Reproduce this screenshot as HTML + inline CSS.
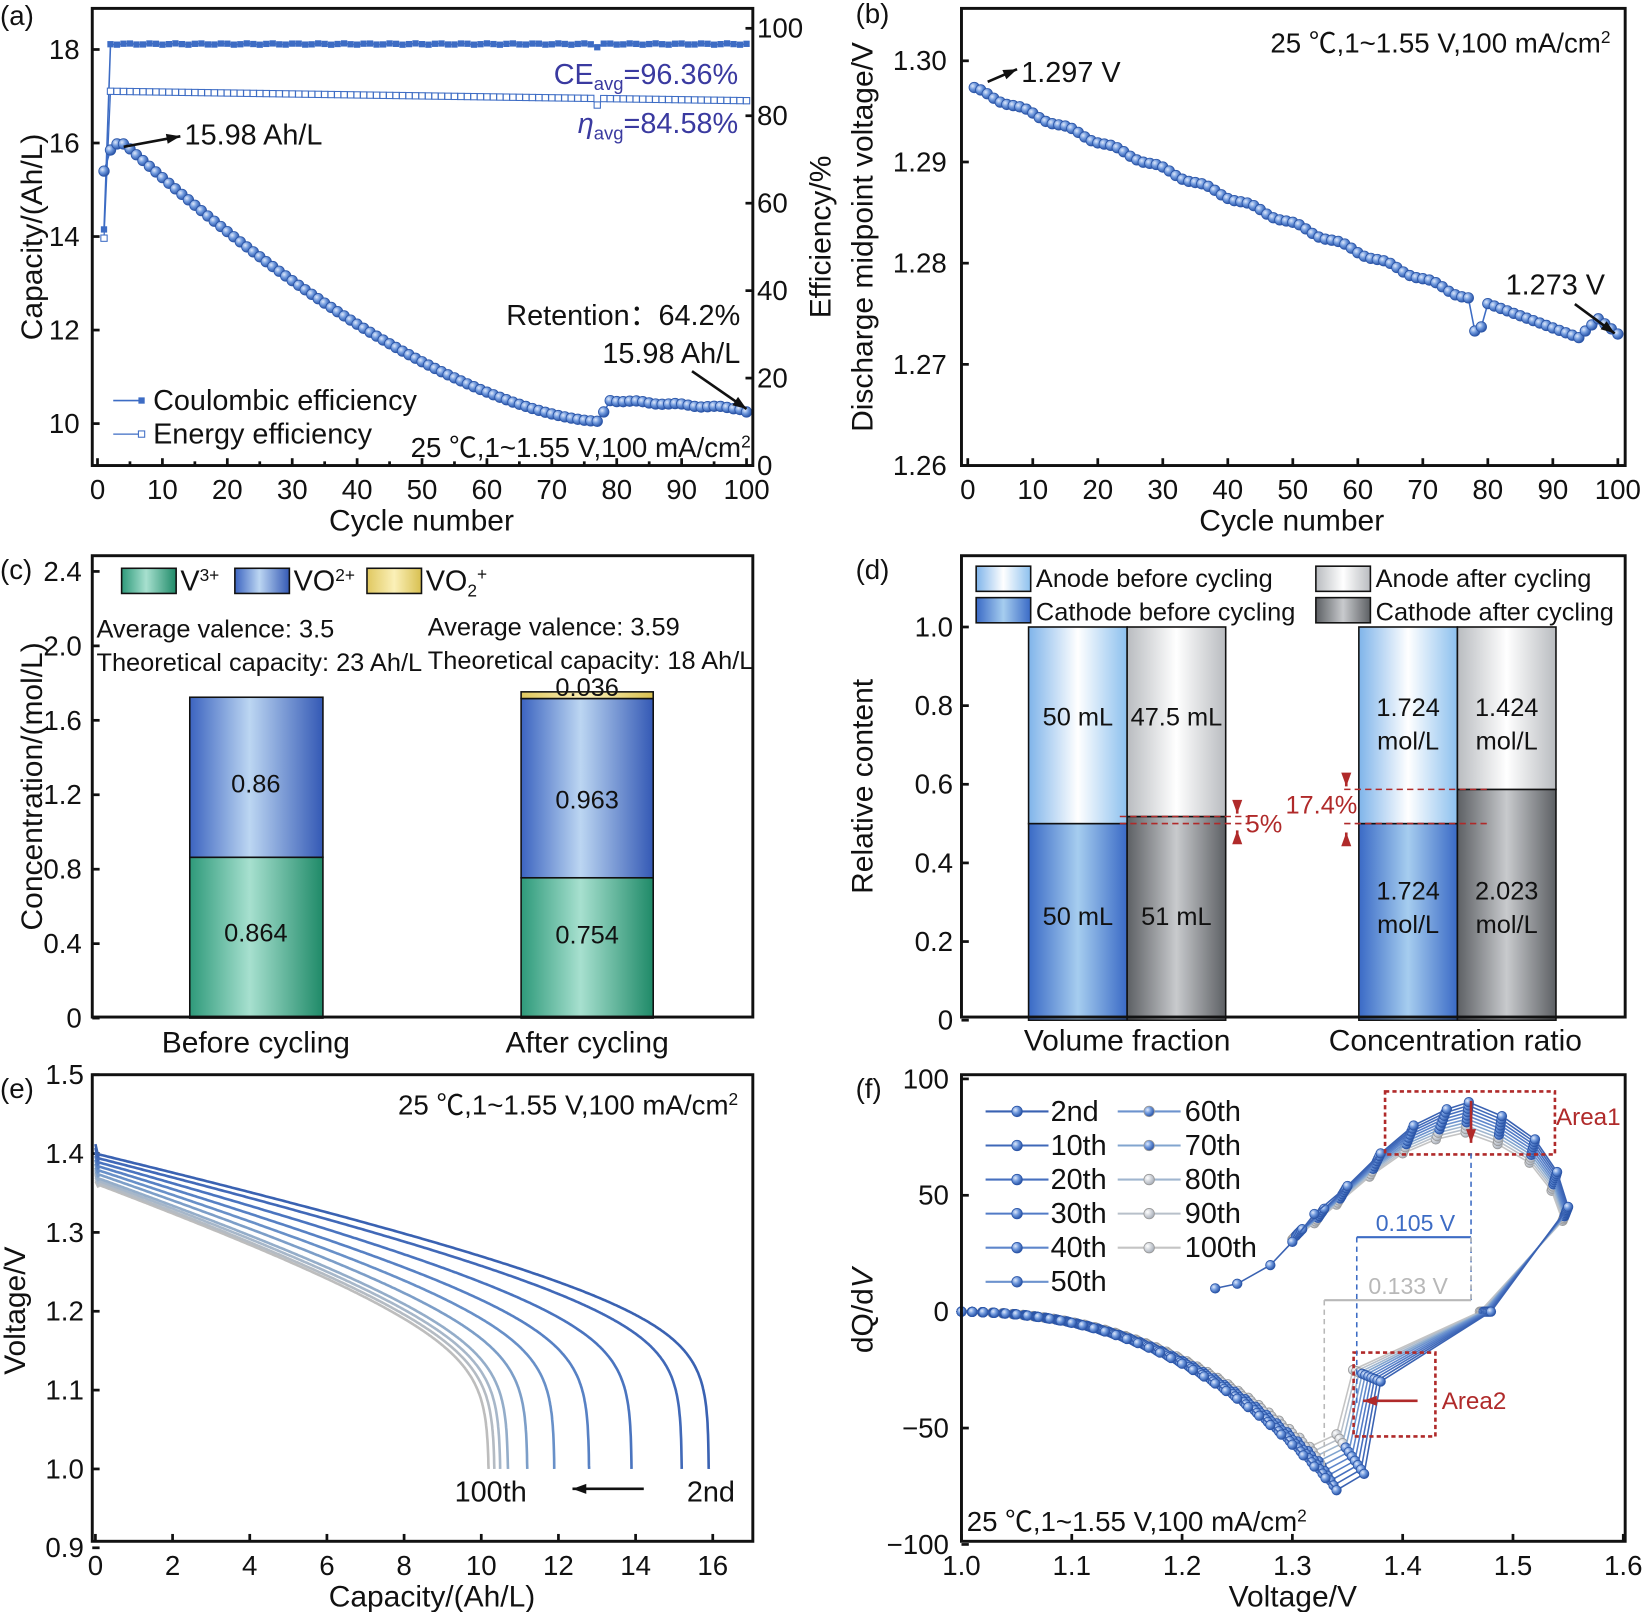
<!DOCTYPE html>
<html><head><meta charset="utf-8"><style>
body{margin:0;background:#fff}
svg{display:block}
text{font-family:"Liberation Sans","Noto Sans CJK SC",sans-serif;fill:#111}
</style></head><body>
<svg id="s" width="1643" height="1612" viewBox="0 0 1643 1612" xmlns="http://www.w3.org/2000/svg">
<defs>
<radialGradient id="ball" cx="35%" cy="35%" r="65%"><stop offset="0" stop-color="#dfe9fb"/><stop offset="0.5" stop-color="#6d97dc"/><stop offset="1" stop-color="#2c56a8"/></radialGradient>
<radialGradient id="gball" cx="35%" cy="35%" r="65%"><stop offset="0" stop-color="#ffffff"/><stop offset="1" stop-color="#a9b0bb"/></radialGradient>
<linearGradient id="gGreen" x1="0" x2="1"><stop offset="0" stop-color="#2e9a7a"/><stop offset="0.45" stop-color="#a7e0cf"/><stop offset="1" stop-color="#1f8a68"/></linearGradient>
<linearGradient id="gBlue" x1="0" x2="1"><stop offset="0" stop-color="#3c64c0"/><stop offset="0.45" stop-color="#bcd6f2"/><stop offset="1" stop-color="#3459b5"/></linearGradient>
<linearGradient id="gYel" x1="0" x2="1"><stop offset="0" stop-color="#e0c860"/><stop offset="0.5" stop-color="#fbf0b8"/><stop offset="1" stop-color="#d8c050"/></linearGradient>
<linearGradient id="dAB" x1="0" x2="1"><stop offset="0" stop-color="#7fb4ea"/><stop offset="0.5" stop-color="#ffffff"/><stop offset="1" stop-color="#8cc0ee"/></linearGradient>
<linearGradient id="dCB" x1="0" x2="1"><stop offset="0" stop-color="#3a6ac6"/><stop offset="0.5" stop-color="#a6cdef"/><stop offset="1" stop-color="#3a6ac6"/></linearGradient>
<linearGradient id="dAA" x1="0" x2="1"><stop offset="0" stop-color="#b9bcc0"/><stop offset="0.5" stop-color="#ffffff"/><stop offset="1" stop-color="#b9bcc0"/></linearGradient>
<linearGradient id="dCA" x1="0" x2="1"><stop offset="0" stop-color="#5d6064"/><stop offset="0.5" stop-color="#c8cacd"/><stop offset="1" stop-color="#5d6064"/></linearGradient>
</defs>
<g id="g" transform="scale(1.0485)"></g>
</svg>
<script>
var o='';var FS=1.1;
function L(x1,y1,x2,y2,c,w,d){o+='<line x1="'+x1+'" y1="'+y1+'" x2="'+x2+'" y2="'+y2+'" stroke="'+(c||'#111')+'" stroke-width="'+(w||2.6)+'"'+(d?' stroke-dasharray="'+d+'"':'')+'/>';}
function T(x,y,s,sz,anc,col,extra){o+='<text x="'+x+'" y="'+y+'" font-size="'+((sz||24)*FS).toFixed(1)+'" text-anchor="'+(anc||'start')+'"'+(col?' style="fill:'+col+'"':'')+(extra||'')+'>'+s+'</text>';}
function R(x,y,w,h,f,st,sw){o+='<rect x="'+x+'" y="'+y+'" width="'+w+'" height="'+h+'" fill="'+(f||'none')+'" stroke="'+(st||'#111')+'" stroke-width="'+(sw||1.5)+'"/>';}
function FR(x,y,w,h){o+='<rect x="'+x+'" y="'+y+'" width="'+w+'" height="'+h+'" fill="none" stroke="#111" stroke-width="2.8"/>';}
function P(pts,c,w,f){o+='<polyline points="'+pts.map(p=>p[0].toFixed(1)+','+p[1].toFixed(1)).join(' ')+'" fill="'+(f||'none')+'" stroke="'+c+'" stroke-width="'+(w||2)+'"/>';}
function C(x,y,r,f,s){o+='<circle cx="'+x.toFixed(1)+'" cy="'+y.toFixed(1)+'" r="'+r+'" fill="'+f+'" stroke="'+(s||'none')+'" stroke-width="0.8"/>';}
function arrow(x1,y1,x2,y2,c){L(x1,y1,x2,y2,c||'#111',2.5);var a=Math.atan2(y2-y1,x2-x1),h=14;var p1=[x2-h*Math.cos(a-0.35),y2-h*Math.sin(a-0.35)],p2=[x2-h*Math.cos(a+0.35),y2-h*Math.sin(a+0.35)];o+='<polygon points="'+x2+','+y2+' '+p1+' '+p2+'" fill="'+(c||'#111')+'"/>';}
var TK=7;
function fsub(s){return s.replace(/font-size="(\d+)"/g,(m,n)=>'font-size="'+(n*FS).toFixed(1)+'"');}

// ---------- (a)
var ax=c=>93+c*6.19, ay=v=>404-(v-10)*44.6, ey=e=>444-e*4.17;
T(0,24,'(a)',24);
[0,10,20,30,40,50,60,70,80,90,100].forEach(c=>{L(ax(c),444,ax(c),444-TK);T(ax(c),476,c,24,'middle');});
for(var c=5;c<=95;c+=10)L(ax(c),444,ax(c),440);
[10,12,14,16,18].forEach(v=>{L(88,ay(v),88+TK,ay(v));T(76,ay(v)+9,v,24,'end');});
[0,20,40,60,80,100].forEach(v=>{L(718-TK,ey(v),718,ey(v));T(722,ey(v)+9,v,24,'start');});
T(402,506,'Cycle number',26,'middle');
T(40,226,'Capacity/(Ah/L)',26,'middle','',' transform="rotate(-90 40 226)"');
T(792,226,'Efficiency/%',26,'middle','',' transform="rotate(-90 792 226)"');
var ce=[],ee=[];
for(var c=1;c<=100;c++){var v=c==1?54:96.4+Math.sin(c*1.7)*0.15-(c==77?0.6:0);ce.push([ax(c),ey(v)]);var e=c==1?52:85.6-(c-2)*0.022-(c==77?1.5:0);ee.push([ax(c),ey(e)]);}
P(ce,'#3d6cc4',1.5);P(ee,'#3d6cc4',1.2);
ce.forEach(p=>o+='<rect x="'+(p[0]-3)+'" y="'+(p[1]-3)+'" width="6" height="6" fill="#3d6cc4"/>');
ee.forEach(p=>o+='<rect x="'+(p[0]-3)+'" y="'+(p[1]-3)+'" width="6" height="6" fill="#fff" stroke="#3d6cc4" stroke-width="1"/>');
var cap=[];
for(var c=1;c<=100;c++){var v;
 if(c==1)v=15.4;else if(c==2)v=15.85;else if(c<=4)v=15.98;
 else if(c<=77){var t=(c-4)/73;v=16-5.95*(1-Math.pow(1-t,1.55));}
 else if(c==78)v=10.25;else{v=10.5-(c-79)*0.009+Math.sin(c)*0.02;if(c==100)v=10.25;}
 cap.push([ax(c),ay(v)]);}
P(cap,'#3d6cc4',1.5);cap.forEach(p=>C(p[0],p[1],5,'url(#ball)','#2c56a8'));
arrow(118,140,172,130);T(176,138,'15.98 Ah/L',25);
T(704,80,fsub('CE<tspan font-size="16" dy="6">avg</tspan><tspan dy="-6">=96.36%</tspan>'),25,'end','#3a3aa0');
T(704,127,fsub('<tspan font-style="italic">η</tspan><tspan font-size="16" dy="6">avg</tspan><tspan dy="-6">=84.58%</tspan>'),25,'end','#3a3aa0');
T(706,310,'Retention：64.2%',25,'end');
T(706,346,'15.98 Ah/L',25,'end');
arrow(660,354,712,390);
L(108,382,136,382,'#3d6cc4',1.5);o+='<rect x="132" y="379" width="6" height="6" fill="#3d6cc4"/>';T(146,391,'Coulombic efficiency',25);
L(108,414,136,414,'#3d6cc4',1.2);o+='<rect x="132" y="411" width="6" height="6" fill="#fff" stroke="#3d6cc4"/>';T(146,423,'Energy efficiency',25);
T(716,436,fsub('25 ℃,1~1.55 V,100 mA/cm<tspan font-size="15" dy="-9">2</tspan>'),24,'end');
FR(88,8,630,436);

// ---------- (b)
var bx=c=>923+c*6.2, by=v=>444-(v-1.26)*9650;
T(816,22,'(b)',24);
[0,10,20,30,40,50,60,70,80,90,100].forEach(c=>{L(bx(c),444,bx(c),444-TK);T(bx(c),476,c,24,'middle');});
[1.26,1.27,1.28,1.29,1.30].forEach(v=>{L(917,by(v),917+TK,by(v));T(903,by(v)+9,v.toFixed(2),24,'end');});
T(1232,506,'Cycle number',26,'middle');
T(832,226,'Discharge midpoint voltage/V',26,'middle','',' transform="rotate(-90 832 226)"');
var bv=[];
for(var c=1;c<=100;c++){var v;
 if(c<=77)v=1.2972-(c-1)*0.000272+Math.sin(c*0.9)*0.0002;
 else if(c==78)v=1.2733;else if(c==79)v=1.2737;
 else if(c<=94)v=1.2760-(c-80)*0.00024;
 else if(c<=97)v=1.2727+(c-94)*0.0006;else v=1.2745-(c-97)*0.0005;
 bv.push([bx(c),by(v)]);}
P(bv,'#3d6cc4',1.5);bv.forEach(p=>C(p[0],p[1],5,'url(#ball)','#2c56a8'));
arrow(942,78,970,66);T(974,78,'1.297 V',25);
T(1536,50,fsub('25 ℃,1~1.55 V,100 mA/cm<tspan font-size="15" dy="-9">2</tspan>'),24,'end');
T(1436,281,'1.273 V',25);arrow(1502,290,1540,318);
FR(917,8,633,436);

// ---------- (c)
var cy=v=>971-v*177.5;
T(0,552,'(c)',24);
[0,0.4,0.8,1.2,1.6,2.0,2.4].forEach(v=>{L(88,cy(v),88+TK,cy(v));T(78,cy(v)+9,v==0?'0':v.toFixed(1),24,'end');});
T(40,750,'Concentration/(mol/L)',26,'middle','',' transform="rotate(-90 40 750)"');
L(244,970,244,963);L(560,970,560,963);
T(244,1004,'Before cycling',26,'middle');T(560,1004,'After cycling',26,'middle');
R(181,cy(0.864),127,0.864*177.5,'url(#gGreen)');R(181,cy(1.724),127,0.86*177.5,'url(#gBlue)');
R(497,cy(0.754),126,0.754*177.5,'url(#gGreen)');R(497,cy(1.717),126,0.963*177.5,'url(#gBlue)');R(497,cy(1.753),126,0.036*177.5,'url(#gYel)');
T(244,898,'0.864',22,'middle');T(244,756,'0.86',22,'middle');
T(560,900,'0.754',22,'middle');T(560,771,'0.963',22,'middle');T(560,664,'0.036',22,'middle');
R(116,542,52,24,'url(#gGreen)');T(172,563,fsub('V<tspan font-size="15" dy="-9">3+</tspan>'),25);
R(224,542,52,24,'url(#gBlue)');T(280,563,fsub('VO<tspan font-size="15" dy="-9">2+</tspan>'),25);
R(350,542,52,24,'url(#gYel)');T(406,563,fsub('VO<tspan font-size="15" dy="6">2</tspan><tspan font-size="15" dy="-16">+</tspan>'),25);
T(92,608,'Average valence: 3.5',22);T(92,640,'Theoretical capacity: 23 Ah/L',22);
T(408,606,'Average valence: 3.59',22);T(408,638,'Theoretical capacity: 18 Ah/L',22);
FR(88,530,630,440);

// ---------- (d)
var dy=v=>973-v*375;
T(816,552,'(d)',24);
[0,0.2,0.4,0.6,0.8,1.0].forEach(v=>{L(917,dy(v),917+TK,dy(v));T(909,dy(v)+9,v==0?'0':v.toFixed(1),24,'end');});
T(832,750,'Relative content',26,'middle','',' transform="rotate(-90 832 750)"');
T(1075,1002,'Volume fraction',26,'middle');T(1388,1002,'Concentration ratio',26,'middle');
R(981,dy(0.5),94,0.5*375,'url(#dCB)');R(981,dy(1),94,0.5*375,'url(#dAB)');
R(1075,dy(0.518),94,0.518*375,'url(#dCA)');R(1075,dy(1),94,0.482*375,'url(#dAA)');
R(1296,dy(0.5),94,0.5*375,'url(#dCB)');R(1296,dy(1),94,0.5*375,'url(#dAB)');
R(1390,dy(0.587),94,0.587*375,'url(#dCA)');R(1390,dy(1),94,0.413*375,'url(#dAA)');
T(1028,692,'50 mL',22,'middle');T(1122,692,'47.5 mL',22,'middle');
T(1028,882,'50 mL',22,'middle');T(1122,882,'51 mL',22,'middle');
T(1343,683,'1.724',22,'middle');T(1343,715,'mol/L',22,'middle');T(1437,683,'1.424',22,'middle');T(1437,715,'mol/L',22,'middle');
T(1343,858,'1.724',22,'middle');T(1343,890,'mol/L',22,'middle');T(1437,858,'2.023',22,'middle');T(1437,890,'mol/L',22,'middle');
var red='#b02a2a';
L(1068,dy(0.5),1192,dy(0.5),red,1.5,'6,4');L(1068,dy(0.518),1192,dy(0.518),red,1.5,'6,4');
arrow(1180,764,1180,776,red);arrow(1180,804,1180,792,red);T(1188,794,'5%',22,'start',red);
L(1282,dy(0.5),1420,dy(0.5),red,1.5,'6,4');L(1282,dy(0.587),1420,dy(0.587),red,1.5,'6,4');
arrow(1284,738,1284,750,red);arrow(1284,806,1284,794,red);T(1226,776,'17.4%',22,'start',red);
R(931,540,52,24,'url(#dAB)');T(988,560,'Anode before cycling',22);
R(931,570,52,24,'url(#dCB)');T(988,592,'Cathode before cycling',22);
R(1255,540,52,24,'url(#dAA)');T(1312,560,'Anode after cycling',22);
R(1255,570,52,24,'url(#dCA)');T(1312,592,'Cathode after cycling',22);
FR(917,530,633,440);

// ---------- (e)
var exx=c=>91+c*36.8, eyy=v=>1401-(v-1.0)*752;
T(0,1047,'(e)',24);
[0,2,4,6,8,10,12,14,16].forEach(c=>{L(exx(c),1470,exx(c),1470-TK);T(exx(c),1502,c,24,'middle');});
[0.9,1.0,1.1,1.2,1.3,1.4,1.5].forEach(v=>{L(88,eyy(v),88+TK,eyy(v));T(80,eyy(v)+9,v.toFixed(1),24,'end');});
T(412,1532,'Capacity/(Ah/L)',26,'middle');
T(24,1250,'Voltage/V',26,'middle','',' transform="rotate(-90 24 1250)"');
var Qs=[15.9,15.2,13.9,12.8,11.9,11.2,10.7,10.5,10.35,10.2],V0s=[1.40,1.395,1.39,1.385,1.38,1.375,1.37,1.367,1.364,1.362];
var cols=['#3a62b2','#4169b8','#4a74bf','#5781c4','#6890c8','#7c9ec8','#94adc9','#a7b7c9','#b4bbc3','#bdbdbd'];
for(var i=9;i>=0;i--){var pts=[[exx(0),eyy(V0s[i]+0.012)],[exx(0.08),eyy(V0s[i]-0.005)]];
 for(var k=1;k<=400;k++){var u=1-Math.pow(1-k/400,1.5);u=Math.min(u,0.99999);var v=V0s[i]-0.16*u+0.03*Math.log(1-u);if(v<1.0){pts.push([exx(u*Qs[i]),eyy(1.0)]);break;}pts.push([exx(u*Qs[i]),eyy(v)]);}
 P(pts,cols[i],2.5);}
T(704,1063,fsub('25 ℃,1~1.55 V,100 mA/cm<tspan font-size="15" dy="-9">2</tspan>'),24,'end');
T(468,1432,'100th',25,'middle');T(678,1432,'2nd',25,'middle');arrow(614,1420,546,1420);
FR(88,1025,630,445);

// ---------- (f)
var fx=v=>917+(v-1.0)*1052, fy=q=>1251-q*2.22;
T(816,1047,'(f)',24);
[1.0,1.1,1.2,1.3,1.4,1.5,1.6].forEach(v=>{L(fx(v),1470,fx(v),1470-TK);T(fx(v),1502,v.toFixed(1),24,'middle');});
[-100,-50,0,50,100].forEach(q=>{L(917,fy(q),917+TK,fy(q));T(905,fy(q)+9,q<0?'−'+(-q):q,24,'end');});
T(1233,1532,'Voltage/V',26,'middle');
T(832,1250,'dQ/d<tspan font-style="italic">V</tspan>',26,'middle','',' transform="rotate(-90 832 1250)"');
var fcols=['#3a62b2','#3f68b8','#4770bf','#527bc6','#5e86cb','#6d93ce','#82a5cf','#a0b6cf','#b8c0ca','#c4c4c4'];
var fball=i=>i<7?'url(#ball)':'url(#gball)';
for(var i=9;i>=0;i--){var s=i/9;
 var dis=[];var depth=82-20*s;
 for(var k=0;k<=34;k++){var v=1.0+k*0.01;var sh=-0.025*s;var x=(v-1.0)/0.35;var q=-depth*Math.pow(x,2.4)-1*Math.sin(x*3);
   dis.push([v+sh*x,q]);}
 var vb=1.35-0.025*s;dis.push([vb+0.015,-depth*0.85]);dis.push([vb+0.03,-30+5*s]);dis.push([1.48-0.01*s,0]);
 var ch=[[1.55-0.005*s,45-6*s],[1.54-0.005*s,60-8*s],[1.52-0.005*s,74-10*s],[1.49-0.004*s,84-12*s],[1.46-0.003*s,90-13*s],[1.44-0.01*s,87-13*s],[1.41-0.01*s,80-12*s],[1.38-0.01*s,68-10*s],[1.35-0.01*s,54-8*s]];
 if(i==0)ch=ch.concat([[1.32,42],[1.30,30],[1.28,20],[1.25,12],[1.23,10]]);else ch=ch.concat([[1.33-0.01*s,45-7*s],[1.31-0.01*s,36-5*s]]);
 var all=dis.concat(ch).map(p=>[fx(p[0]),fy(p[1])]);
 P(all,fcols[i],1.5);all.forEach(p=>C(p[0],p[1],4.5,fball(i),i<7?'#2c56a8':'#999'));}
var legs=['2nd','10th','20th','30th','40th','50th'],legs2=['60th','70th','80th','90th','100th'];
legs.forEach((t,j)=>{var y=1060+j*32.5;L(940,y,1000,y,fcols[j],2);C(970,y,5,'url(#ball)','#2c56a8');T(1002,y+9,t,25);});
legs2.forEach((t,j)=>{var y=1060+j*32.5;L(1066,y,1126,y,fcols[j+5],2);C(1096,y,5,fball(j+5),'#999');T(1130,y+9,t,25);});
o+='<rect x="1321" y="1041" width="162" height="60" fill="none" stroke="'+red+'" stroke-width="2.5" stroke-dasharray="4,3"/>';
o+='<rect x="1291" y="1290" width="78" height="80" fill="none" stroke="'+red+'" stroke-width="2.5" stroke-dasharray="4,3"/>';
arrow(1403,1050,1403,1090,red);T(1484,1073,'Area1',21,'start',red);
arrow(1352,1336,1300,1336,red);T(1375,1344,'Area2',21,'start',red);
L(1403,1100,1403,1240,'#3d6cc4',1.5,'5,4');L(1294,1180,1294,1340,'#3d6cc4',1.5,'5,4');
o+='<line x1="1294" y1="1180" x2="1403" y2="1180" stroke="#3d6cc4" stroke-width="2"/>';T(1350,1174,'0.105 V',20,'middle','#3d6cc4');
L(1263,1240,1263,1400,'#b8b8b8',1.5,'5,4');L(1403,1180,1403,1240,'#b8b8b8',1.5,'5,4');
o+='<line x1="1263" y1="1240" x2="1403" y2="1240" stroke="#b8b8b8" stroke-width="2"/>';T(1343,1234,'0.133 V',20,'middle','#b8b8b8');
T(922,1460,fsub('25 ℃,1~1.55 V,100 mA/cm<tspan font-size="15" dy="-9">2</tspan>'),24,'start');
FR(917,1025,633,445);

document.getElementById('g').insertAdjacentHTML('beforeend',o);
</script>
</body></html>
